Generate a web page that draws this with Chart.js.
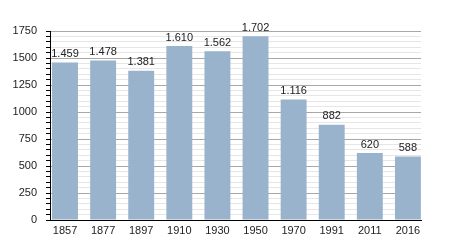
<!DOCTYPE html>
<html>
<head>
<meta charset="utf-8">
<script src="https://cdn.jsdelivr.net/npm/chart.js@4/dist/chart.umd.min.js"></script>
<style>
  html, body { margin: 0; padding: 0; background: #fff; }
</style>
</head>
<body>
<canvas id="grafico" width="450" height="250"></canvas>
<script>
// Años del censo
const anios = ['1857', '1877', '1897', '1910', '1930', '1950', '1970', '1991', '2011', '2016'];
// Población
const poblacion = [1459, 1478, 1381, 1610, 1562, 1702, 1116, 882, 620, 588];
// Etiquetas del eje Y
const marcasY = [0, 250, 500, 750, 1000, 1250, 1500, 1750];

const fuente = "'Liberation Sans', Arial, sans-serif";

// Número con punto como separador de miles
const formato = v => String(v).replace(/\B(?=(\d{3})+(?!\d))/g, '.');

// Escribir el valor encima de cada barra
const valoresPlugin = {
  id: 'valores',
  afterDatasetsDraw(chart) {
    const ctx = chart.ctx;
    const meta = chart.getDatasetMeta(0);
    ctx.save();
    ctx.font = '11px ' + fuente;
    ctx.fillStyle = '#222';
    ctx.textAlign = 'center';
    ctx.textBaseline = 'bottom';
    meta.data.forEach((bar, i) => {
      ctx.fillText(formato(poblacion[i]), bar.x, bar.y - 3);
    });
    ctx.restore();
  }
};

new Chart(document.getElementById('grafico'), {
  type: 'bar',
  data: {
    datasets: [{
      data: poblacion.map((v, i) => ({ x: i, y: v })),
      backgroundColor: '#99b3cc',
      borderWidth: 0,
      barPercentage: 0.68,
      categoryPercentage: 1
    }]
  },
  options: {
    responsive: false,
    animation: false,
    devicePixelRatio: 1,
    layout: { padding: { top: 31, right: 29, left: 0, bottom: 0 } },
    plugins: {
      legend: { display: false },
      tooltip: { enabled: false }
    },
    scales: {
      x: {
        type: 'linear',
        offset: false,
        min: -0.394,
        max: 9.343,
        afterFit: s => { s.height = 30; },
        grid: { display: false, drawTicks: false, offset: false },
        border: { display: true, color: '#000', width: 1 },
        ticks: {
          stepSize: 1,
          includeBounds: false,
          autoSkip: false,
          maxRotation: 0,
          padding: 4,
          color: '#222',
          font: { family: fuente, size: 11 },
          callback: v => (Number.isInteger(v) && anios[v]) ? anios[v] : ''
        }
      },
      y: {
        min: 0,
        max: 1750,
        afterFit: s => { s.width = 50; },
        border: { display: true, color: '#000', width: 1 },
        grid: {
          color: c => (c.tick.value % 250 === 0 ? '#a8a8a8' : '#e6e6e6'),
          tickColor: '#000',
          tickLength: 4
        },
        ticks: {
          stepSize: 50,
          autoSkip: false,
          padding: 9,
          color: '#222',
          font: { family: fuente, size: 11 },
          callback: v => (marcasY.includes(v) ? v : '')
        }
      }
    }
  },
  plugins: [valoresPlugin]
});
</script>
</body>
</html>
